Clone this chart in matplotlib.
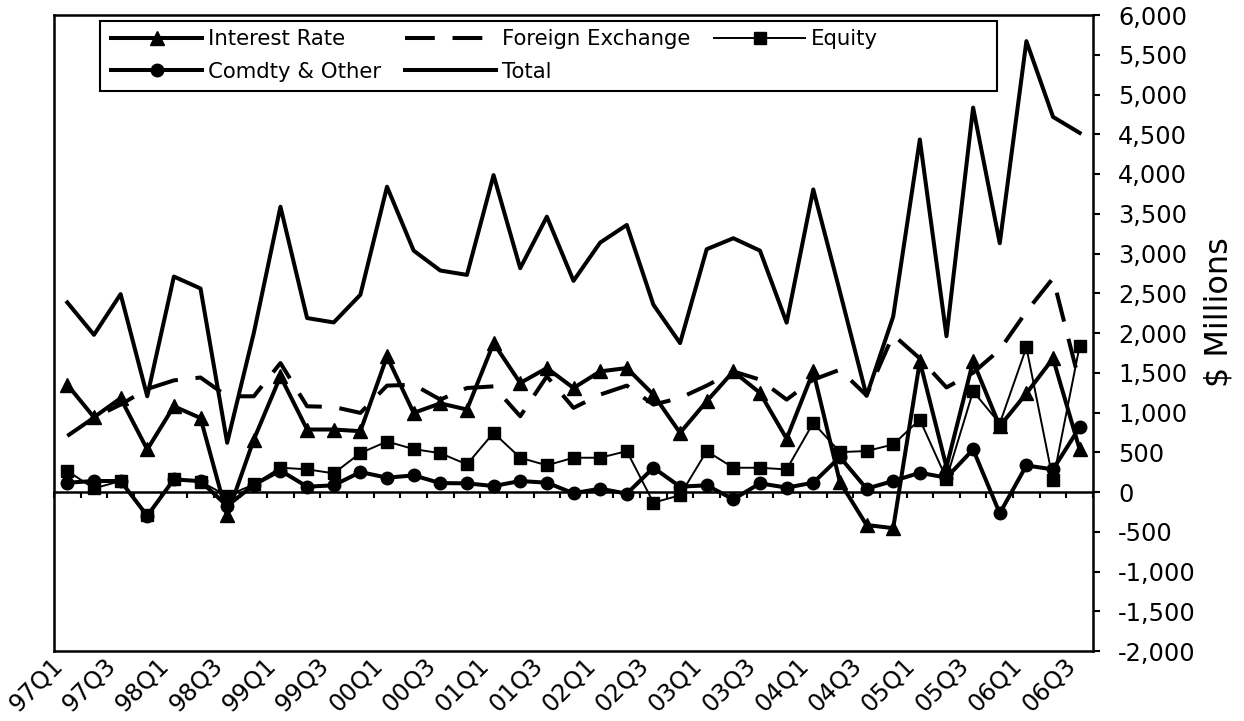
import numpy as np
import matplotlib
matplotlib.use("Agg")
import matplotlib.pyplot as plt
import matplotlib.transforms as mtransforms
from matplotlib.patches import Rectangle
from matplotlib.ticker import FuncFormatter

quarters = ["97Q1", "97Q2", "97Q3", "97Q4", "98Q1", "98Q2", "98Q3", "98Q4",
            "99Q1", "99Q2", "99Q3", "99Q4", "00Q1", "00Q2", "00Q3", "00Q4",
            "01Q1", "01Q2", "01Q3", "01Q4", "02Q1", "02Q2", "02Q3", "02Q4",
            "03Q1", "03Q2", "03Q3", "03Q4", "04Q1", "04Q2", "04Q3", "04Q4",
            "05Q1", "05Q2", "05Q3", "05Q4", "06Q1", "06Q2", "06Q3"]

interest_rate = [1350, 940, 1180, 535, 1078, 930, -295, 660, 1455, 786,
                 786, 765, 1705, 995, 1115, 1037, 1873, 1371, 1559, 1308,
                 1517, 1559, 1225, 744, 1141, 1517, 1246, 670, 1517, 125,
                 -415, -455, 1643, 315, 1643, 828, 1240, 1680, 535]

foreign_exchange = [705, 935, 1100, 1296, 1404, 1440, 1204, 1204, 1622, 1078,
                    1070, 995, 1338, 1350, 1162, 1308, 1329, 953, 1455, 1058,
                    1225, 1338, 1099, 1183, 1338, 1517, 1413, 1162, 1413, 1538,
                    1215, 1977, 1680, 1315, 1500, 1790, 2270, 2690, 1370]

equity = [265, 45, 138, -292, 159, 132, -50, 96, 306, 285,
          235, 490, 635, 540, 488, 347, 744, 431, 335, 431,
          431, 514, -134, -41, 514, 305, 305, 284, 870, 502,
          515, 598, 911, 167, 1267, 861, 1819, 146, 1839]

comdty_other = [117, 138, 138, -300, 159, 136, -175, 90, 270, 67,
                84, 251, 180, 209, 112, 109, 75, 138, 117, -16,
                42, -21, 305, 67, 84, -92, 109, 55, 117, 440,
                42, 138, 242, 180, 535, -268, 334, 284, 815]

total = [2384, 1977, 2489, 1204, 2710, 2560, 619, 2000, 3588, 2188,
         2133, 2481, 3840, 3036, 2786, 2731, 3986, 2815, 3463, 2656,
         3137, 3359, 2355, 1873, 3054, 3192, 3036, 2130, 3806, 2520,
         1210, 2207, 4434, 1960, 4835, 3129, 5671, 4718, 4517]

ymin, ymax = -2000, 6000
tick_fs = 17.3
legend_fs = 15.3

fig = plt.figure(figsize=(12.44, 7.21), dpi=100)
ax = fig.add_axes([54 / 1244, 1 - 651 / 721, 1039 / 1244, 636 / 721])

x = np.arange(len(quarters))
lw = 2.9

ir_line, = ax.plot(x, interest_rate, color="black", lw=lw, marker="^",
                   markersize=10, label="Interest Rate", zorder=3)
fx_line, = ax.plot(x, foreign_exchange, color="black", lw=lw,
                   dashes=(7.4, 4.4), label="Foreign Exchange", zorder=3)
cm_line, = ax.plot(x, comdty_other, color="black", lw=lw, marker="o",
                   markersize=9, label="Comdty & Other", zorder=4)
eq_line, = ax.plot(x, equity, color="black", lw=1.4, marker="s",
                   markersize=8.5, label="Equity", zorder=5)
tot_line, = ax.plot(x, total, color="black", lw=lw, label="Total", zorder=3)

ax.set_xlim(-0.5, len(quarters) - 0.5)
ax.set_ylim(ymin, ymax)

# y axis on the right
ax.yaxis.tick_right()
ax.yaxis.set_label_position("right")
ax.set_yticks(np.arange(ymin, ymax + 1, 500))
ax.yaxis.set_major_formatter(FuncFormatter(lambda v, p: f"{v:,.0f}"))
ax.tick_params(axis="y", direction="out", length=5, width=1.5, pad=13,
               labelsize=tick_fs, colors="black")
ax.set_ylabel(r"\$ Millions", fontsize=23, rotation=90)
ax.yaxis.set_label_coords(1.106, 0.533)

# category labels at the bottom of the plot area
ax.set_xticks(x[::2])
ax.set_xticklabels(quarters[::2], rotation=45, ha="right", va="center",
                   rotation_mode="anchor", fontsize=tick_fs)
ax.tick_params(axis="x", length=0, pad=8)
shift = mtransforms.ScaledTranslation(-8 / 100, 0, fig.dpi_scale_trans)
for lab in ax.get_xticklabels():
    lab.set_transform(lab.get_transform() + shift)

for side in ["left", "top", "bottom", "right"]:
    ax.spines[side].set_linewidth(1.8)

# horizontal axis line at zero with category tick marks
zero_pos = (0 - ymin) / (ymax - ymin)
sec = ax.secondary_xaxis(zero_pos)
sec.set_xticks(np.arange(-0.5, len(quarters), 1.0))
sec.tick_params(axis="x", direction="out", length=4, width=1.5,
                labelbottom=False, labeltop=False)
for s in sec.spines.values():
    s.set_linewidth(1.8)

# legend with a wide frame like the original
handles = [ir_line, cm_line, fx_line, tot_line, eq_line]
leg = ax.legend(handles=handles, ncol=3, loc="upper left",
                bbox_to_anchor=((111 - 54) / 1039, (651 - 29) / 636),
                frameon=False, fontsize=legend_fs, handlelength=4.3,
                handletextpad=0.28, columnspacing=1.1, labelspacing=0.6,
                borderaxespad=0, borderpad=0)
ax.add_patch(Rectangle(((100 - 54) / 1039, (651 - 91) / 636),
                       (997 - 100) / 1039, 70 / 636, transform=ax.transAxes,
                       fill=False, edgecolor="black", lw=1.5, zorder=6))

fig.savefig("out.png", dpi=100)
